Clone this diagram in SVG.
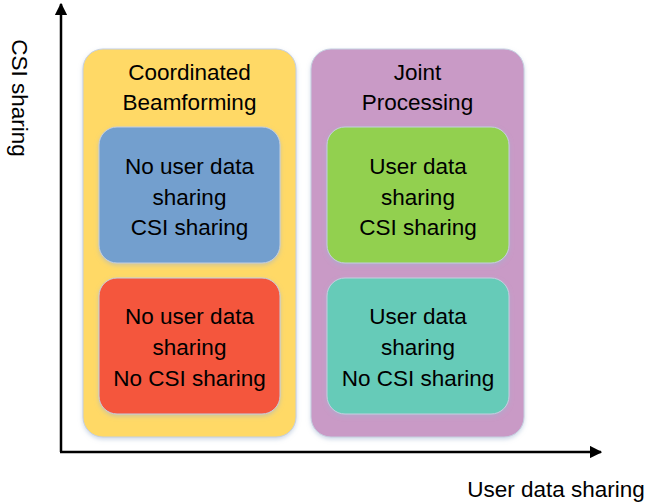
<svg xmlns="http://www.w3.org/2000/svg" width="649" height="503" viewBox="0 0 649 503">
<defs>
<marker id="arr" viewBox="0 0 10 10" refX="9" refY="5" markerWidth="5" markerHeight="5" orient="auto" markerUnits="strokeWidth">
<path d="M0,0 L10,5 L0,10 z" fill="#000"/>
</marker>
<filter id="sh" x="-10%" y="-10%" width="120%" height="125%">
<feDropShadow dx="0" dy="2" stdDeviation="2" flood-color="#9fb3d0" flood-opacity="0.5"/>
</filter>
</defs>
<style>
text{font-family:"Liberation Sans","Open Sans",sans-serif;font-size:22.5px;fill:#000;text-anchor:middle}
.box{stroke:#c5cfe0;stroke-width:1;filter:url(#sh)}
</style>
<rect width="649" height="503" fill="#fff"/>
<g id="coordinated-beamforming">
<rect class="box" x="83" y="49" width="213" height="388" rx="20" fill="#FFD966"/>
<text x="189.5" y="80">Coordinated</text>
<text x="189.5" y="110">Beamforming</text>
</g>
<g id="joint-processing">
<rect class="box" x="311" y="49" width="213" height="388" rx="20" fill="#C99AC6"/>
<text x="417.5" y="80">Joint</text>
<text x="417.5" y="110">Processing</text>
</g>
<g id="no-user-csi">
<rect class="box" x="99" y="127" width="181" height="136" rx="18" fill="#739FCE"/>
<text x="189.5" y="174">No user data</text>
<text x="189.5" y="205">sharing</text>
<text x="189.5" y="235">CSI sharing</text>
</g>
<g id="no-user-no-csi">
<rect class="box" x="99" y="278" width="181" height="136" rx="18" fill="#F4573E"/>
<text x="189.5" y="324">No user data</text>
<text x="189.5" y="355">sharing</text>
<text x="189.5" y="386">No CSI sharing</text>
</g>
<g id="user-csi">
<rect class="box" x="327" y="127" width="182" height="136" rx="18" fill="#92D050"/>
<text x="418" y="174">User data</text>
<text x="418" y="205">sharing</text>
<text x="418" y="235">CSI sharing</text>
</g>
<g id="user-no-csi">
<rect class="box" x="327" y="278" width="182" height="136" rx="18" fill="#66CBB8"/>
<text x="418" y="324">User data</text>
<text x="418" y="355">sharing</text>
<text x="418" y="386">No CSI sharing</text>
</g>
<g id="connectors" stroke="#000" stroke-width="2.5" fill="none">
<path d="M61,452 L61,4" marker-end="url(#arr)"/>
<path d="M60,452 L601,452" marker-end="url(#arr)"/>
</g>
<g id="axis-labels">
<text transform="translate(12,98) rotate(90)">CSI sharing</text>
<text x="556" y="497">User data sharing</text>
</g>
</svg>
